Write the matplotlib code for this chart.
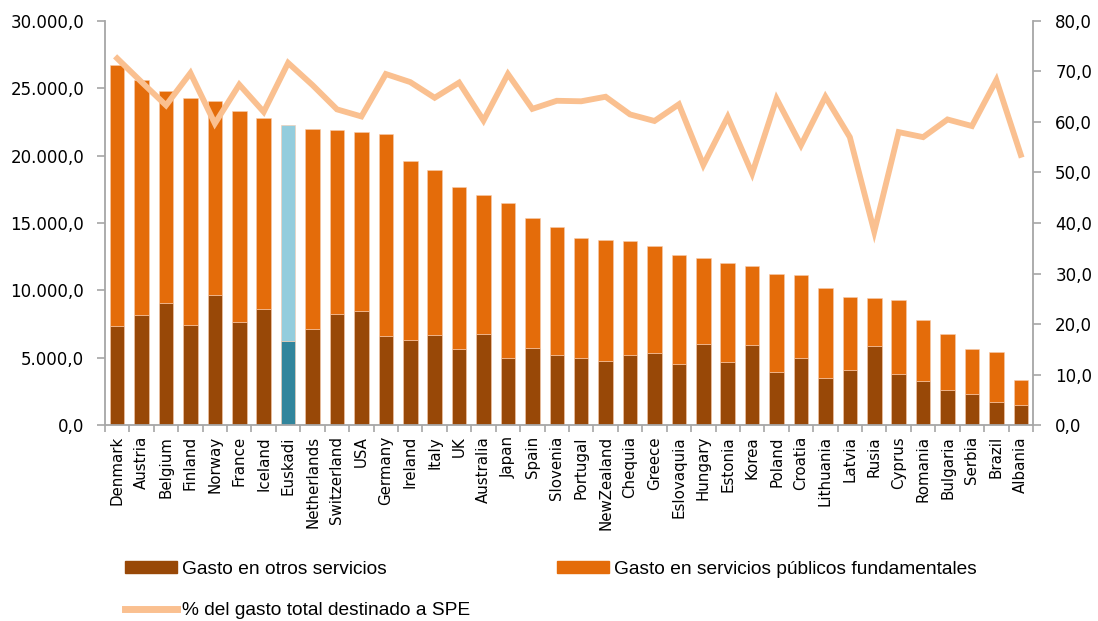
import numpy as np
import matplotlib
matplotlib.use("Agg")
import matplotlib.pyplot as plt
from matplotlib.patches import Patch
from matplotlib.lines import Line2D

# Gasto por país (otros servicios + servicios públicos fundamentales) y % destinado a SPE
countries = ["Denmark", "Austria", "Belgium", "Finland", "Norway", "France", "Iceland", "Euskadi",
             "Netherlands", "Switzerland", "USA", "Germany", "Ireland", "Italy", "UK", "Australia",
             "Japan", "Spain", "Slovenia", "Portugal", "NewZealand", "Chequia", "Greece", "Eslovaquia",
             "Hungary", "Estonia", "Korea", "Poland", "Croatia", "Lithuania", "Latvia", "Rusia",
             "Cyprus", "Romania", "Bulgaria", "Serbia", "Brazil", "Albania"]

total = [26725, 25610, 24815, 24270, 24045, 23300, 22830, 22260,
         21960, 21910, 21760, 21590, 19600, 18960, 17670, 17050,
         16500, 15335, 14740, 13870, 13720, 13670, 13325, 12630,
         12430, 12060, 11790, 11240, 11140, 10200, 9530, 9455,
         9255, 7815, 6725, 5680, 5435, 3325]

otros = [7320, 8165, 9055, 7420, 9630, 7645, 8585, 6255,
         7145, 8215, 8460, 6575, 6280, 6675, 5680, 6750,
         5010, 5730, 5235, 4940, 4790, 5235, 5335, 4565,
         6005, 4690, 5905, 3970, 4940, 3525, 4095, 5830,
         3820, 3300, 2630, 2310, 1710, 1515]

pct_spe = [72.6, 67.9, 63.3, 69.7, 59.7, 67.4, 62.0, 71.7,
           67.3, 62.5, 61.1, 69.5, 67.9, 64.8, 67.8, 60.3,
           69.5, 62.6, 64.2, 64.1, 65.0, 61.5, 60.2, 63.5,
           51.5, 61.0, 49.8, 64.6, 55.4, 65.0, 57.0, 38.3,
           58.0, 57.0, 60.5, 59.2, 68.3, 53.5]

fundamentales = [t - o for t, o in zip(total, otros)]

c_otros = "#984807"
c_fund = "#E46C0A"
c_line = "#FAC090"
c_eus_otros = "#31859C"
c_eus_fund = "#93CDDD"
c_axis = "#A6A6A6"

x = np.arange(len(countries))
col_otros = [c_eus_otros if c == "Euskadi" else c_otros for c in countries]
col_fund = [c_eus_fund if c == "Euskadi" else c_fund for c in countries]

fig = plt.figure(figsize=(10.98, 6.21), dpi=100)
ax = fig.add_axes([0.0956, 0.3156, 0.8452, 0.6506])

ax.bar(x, otros, width=0.595, color=col_otros, edgecolor="#F8CBAD", linewidth=0.4)
ax.bar(x, fundamentales, bottom=otros, width=0.595, color=col_fund,
       edgecolor="#F8CBAD", linewidth=0.4)

ax.set_xlim(-0.5, len(countries) - 0.5)
ax.set_ylim(0, 30000)
ax.set_yticks(np.arange(0, 30001, 5000))
ax.set_yticklabels([f"{v:,.1f}".replace(",", "X").replace(".", ",").replace("X", ".")
                    for v in np.arange(0, 30001, 5000)],
                   fontsize=12, family="DejaVu Sans")

ax.set_xticks(x)
ax.set_xticklabels(countries, rotation=90, fontsize=10.8, family="DejaVu Sans",
                   va="top", ha="center")
ax.set_xticks(np.arange(-0.5, len(countries), 1), minor=True)
ax.tick_params(axis="x", which="major", length=0, pad=8)
ax.tick_params(axis="x", which="minor", length=5, color=c_axis, width=1.2)
ax.tick_params(axis="y", length=6, color=c_axis, width=1.2, pad=9)

for s in ["top", "right"]:
    ax.spines[s].set_visible(False)
for s in ["left", "bottom"]:
    ax.spines[s].set_color(c_axis)
    ax.spines[s].set_linewidth(1.3)

ax2 = ax.twinx()
ax2.plot(x, pct_spe, color=c_line, linewidth=4.2, solid_joinstyle="miter")
ax2.set_ylim(0, 80)
ax2.set_yticks(np.arange(0, 81, 10))
ax2.set_yticklabels([f"{v:.1f}".replace(".", ",") for v in np.arange(0, 81, 10)],
                    fontsize=12, family="DejaVu Sans")
ax2.tick_params(axis="y", length=6, color=c_axis, width=1.2, pad=10)
for s in ["top", "left", "bottom"]:
    ax2.spines[s].set_visible(False)
ax2.spines["right"].set_color(c_axis)
ax2.spines["right"].set_linewidth(1.3)

handles = [Patch(color=c_otros), Line2D([0], [0], color=c_line, linewidth=5),
           Patch(color=c_fund)]
labels = ["Gasto en otros servicios", "% del gasto total destinado a SPE",
          "Gasto en servicios públicos fundamentales"]
fig.legend(handles, labels, loc="upper left", bbox_to_anchor=(125 / 1098, 1 - 561 / 621),
           ncol=2, frameon=False, borderpad=0, borderaxespad=0,
           handlelength=2.7, handleheight=0.57, handletextpad=0.3,
           labelspacing=1.25, columnspacing=4.5,
           prop={"family": "Liberation Sans", "size": 13.8})

fig.savefig("out.png", dpi=100)
